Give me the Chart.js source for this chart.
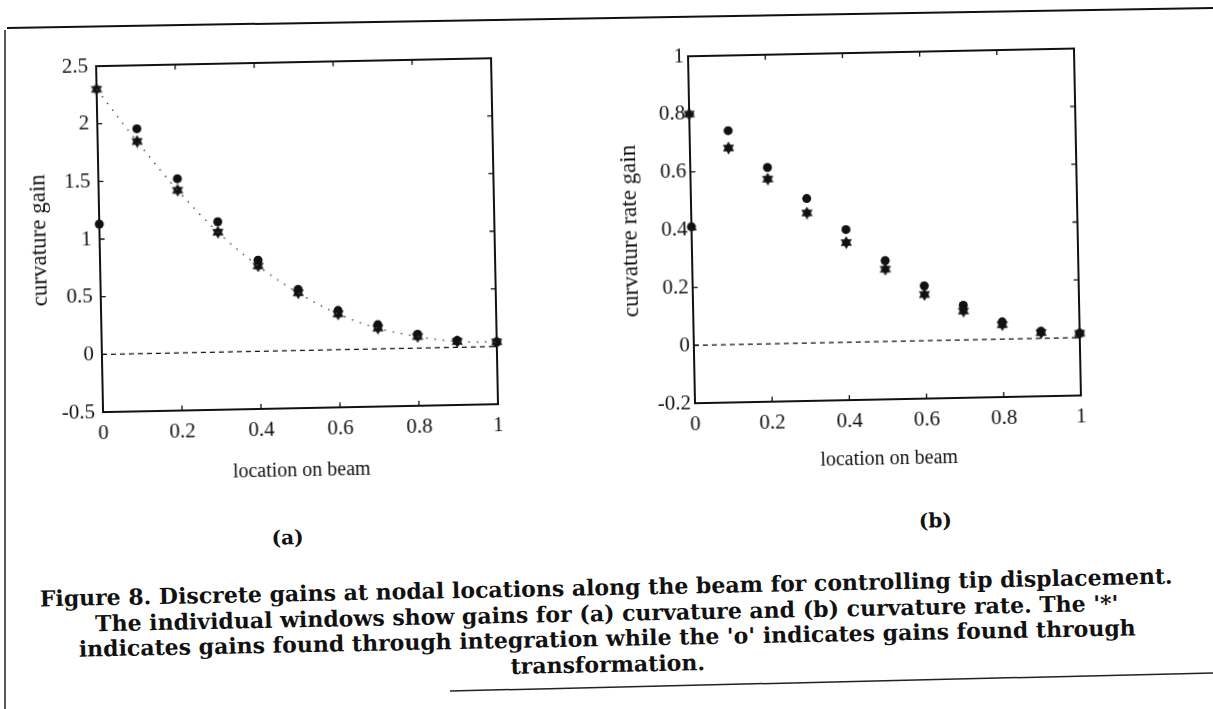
<!DOCTYPE html>
<html>
<head>
<meta charset="utf-8">
<script src="https://cdn.jsdelivr.net/npm/chart.js@4.4.0/dist/chart.umd.min.js"></script>
<style>
  html, body { margin: 0; padding: 0; background: #fff; }
  #sheet { position: relative; width: 1213px; height: 709px; overflow: hidden; background: #fff; }
  #page { position: absolute; left: 0; top: 0; width: 1213px; height: 709px;
          transform: rotate(-1.15deg); transform-origin: 606px 354px; }
  .panel { position: absolute; top: 0; }
  .tag { position: absolute; font: bold 20px "DejaVu Serif"; color: #111; transform: translate(-50%, -50%); }
  #caption { position: absolute; left: 0; top: 575px; width: 1203px; text-align: center;
             font: bold 22px/25.5px "DejaVu Serif"; color: #111; }
  #rules { position: absolute; left: 0; top: 0; }
</style>
</head>
<body>
<div id="sheet">
  <svg id="rules" width="1213" height="709">
    <line x1="7" y1="28" x2="1213" y2="8" stroke="#111" stroke-width="2"/>
    <line x1="5" y1="30" x2="5" y2="709" stroke="#222" stroke-width="1.5"/>
    <line x1="450" y1="691" x2="1213" y2="673" stroke="#222" stroke-width="1.5"/>
  </svg>
  <div id="page">
    <canvas id="curvatureChart" class="panel" style="left:0px" width="580" height="500"></canvas>
    <canvas id="rateChart" class="panel" style="left:600px" width="560" height="500"></canvas>
    <div class="tag" style="left:284px; top:531px">(a)</div>
    <div class="tag" style="left:932px; top:527px">(b)</div>
    <div id="caption">
      Figure 8. Discrete gains at nodal locations along the beam for controlling tip displacement.<br>
      The individual windows show gains for (a) curvature and (b) curvature rate. The '*'<br>
      indicates gains found through integration while the 'o' indicates gains found through<br>
      transformation.
    </div>
  </div>
</div>

<script>
// nodal locations along the beam
const positions = [0, 0.1, 0.2, 0.3, 0.4, 0.5, 0.6, 0.7, 0.8, 0.9, 1];

// (a) curvature gains
const curvatureIntegration = [2.30, 1.84, 1.41, 1.04, 0.74, 0.50, 0.31, 0.18, 0.10, 0.05, 0.04];
const curvatureTransform = [1.13, 1.95, 1.51, 1.13, 0.79, 0.53, 0.34, 0.21, 0.12, 0.06, 0.04];

// (b) curvature rate gains
const rateIntegration = [0.80, 0.68, 0.57, 0.45, 0.345, 0.25, 0.16, 0.10, 0.05, 0.02, 0.015];
const rateTransform = [0.41, 0.74, 0.61, 0.50, 0.39, 0.28, 0.19, 0.12, 0.06, 0.025, 0.015];

// zero reference line
const zeroLineX = [0, 1];
const zeroLineY = [0, 0];

const xTicks = [0, 0.2, 0.4, 0.6, 0.8, 1];
const curvatureTicks = [-0.5, 0, 0.5, 1, 1.5, 2, 2.5];
const rateTicks = [-0.2, 0, 0.2, 0.4, 0.6, 0.8, 1];

const ink = '#111';
const serif = '"Liberation Serif", "Times New Roman", serif';

function pairs(xs, ys) {
    return xs.map((x, i) => ({ x: x, y: ys[i] }));
}

function fmt(v) {
    return String(+v.toFixed(2));
}

// filled six-pointed star used for the integration markers
function hexagram(size) {
    const c = document.createElement('canvas');
    c.width = c.height = size;
    const g = c.getContext('2d');
    const r = size / 2;
    g.fillStyle = ink;
    [0, Math.PI].forEach(rot => {
        g.beginPath();
        for (let i = 0; i < 3; i++) {
            const a = rot - Math.PI / 2 + i * 2 * Math.PI / 3;
            const px = r + r * Math.cos(a), py = r + r * Math.sin(a);
            if (i) g.lineTo(px, py); else g.moveTo(px, py);
        }
        g.closePath();
        g.fill();
    });
    return c;
}
const starMark = hexagram(13);

// box round the plot area with inward ticks on all four sides
const framePlugin = {
    id: 'frame',
    beforeDatasetsDraw(chart) {
        const { ctx, chartArea: a, scales: { x, y } } = chart;
        ctx.save();
        ctx.strokeStyle = ink;
        ctx.lineWidth = 2;
        ctx.strokeRect(a.left, a.top, a.right - a.left, a.bottom - a.top);
        ctx.lineWidth = 1.3;
        ctx.beginPath();
        x.ticks.forEach(t => {
            const px = x.getPixelForValue(t.value);
            ctx.moveTo(px, a.bottom); ctx.lineTo(px, a.bottom - 5);
            ctx.moveTo(px, a.top); ctx.lineTo(px, a.top + 5);
        });
        y.ticks.forEach(t => {
            const py = y.getPixelForValue(t.value);
            ctx.moveTo(a.left, py); ctx.lineTo(a.left + 5, py);
            ctx.moveTo(a.right, py); ctx.lineTo(a.right - 5, py);
        });
        ctx.stroke();
        ctx.restore();
    }
};

function gainChart(id, cfg) {
    const datasets = [
        {
            type: 'line', data: pairs(zeroLineX, zeroLineY),
            borderColor: ink, borderWidth: 1.4, borderDash: [5, 4],
            pointRadius: 0, clip: false
        }
    ];
    if (cfg.curve) {
        datasets.push({
            type: 'line', data: pairs(positions, cfg.integration),
            borderColor: '#444', borderWidth: 1.4, borderDash: [1.5, 7],
            tension: 0.35, pointRadius: 0
        });
    }
    datasets.push(
        {
            type: 'scatter', data: pairs(positions, cfg.transform),
            pointStyle: 'circle', pointRadius: 4.5,
            backgroundColor: ink, borderColor: ink, borderWidth: 0, clip: false
        },
        {
            type: 'scatter', data: pairs(positions, cfg.integration),
            pointStyle: starMark, pointRadius: 6, clip: false
        }
    );

    return new Chart(document.getElementById(id), {
        type: 'scatter',
        data: { datasets: datasets },
        options: {
            responsive: false,
            animation: false,
            events: [],
            layout: { padding: cfg.padding },
            plugins: { legend: { display: false }, tooltip: { enabled: false } },
            scales: {
                x: {
                    type: 'linear', min: 0, max: 1,
                    afterBuildTicks: s => { s.ticks = xTicks.map(v => ({ value: v })); },
                    afterFit: s => { s.height = cfg.xHeight; },
                    grid: { display: false, drawTicks: false },
                    border: { display: false },
                    ticks: { color: ink, padding: 9, maxRotation: 0, font: { family: serif, size: 21 }, callback: fmt },
                    title: { display: true, text: 'location on beam', color: ink,
                             font: { family: serif, size: 20 }, padding: { top: 0, bottom: 23 } }
                },
                y: {
                    type: 'linear', min: cfg.yTicks[0], max: cfg.yTicks[cfg.yTicks.length - 1],
                    afterBuildTicks: s => { s.ticks = cfg.yTicks.map(v => ({ value: v })); },
                    afterFit: s => { s.width = cfg.yWidth; },
                    grid: { display: false, drawTicks: false },
                    border: { display: false },
                    ticks: { color: ink, padding: cfg.tickPad, font: { family: serif, size: 21 }, callback: fmt },
                    title: { display: true, text: cfg.yTitle, color: ink,
                             font: { family: serif, size: 23 }, padding: { top: cfg.titlePad, bottom: 0 } }
                }
            }
        },
        plugins: [framePlugin]
    });
}

gainChart('curvatureChart', {
    integration: curvatureIntegration,
    transform: curvatureTransform,
    yTicks: curvatureTicks,
    yTitle: 'curvature gain',
    curve: true,
    padding: { top: 56, right: 83, left: 0, bottom: 0 },
    yWidth: 102, xHeight: 98, tickPad: 8, titlePad: 28
});

gainChart('rateChart', {
    integration: rateIntegration,
    transform: rateTransform,
    yTicks: rateTicks,
    yTitle: 'curvature rate gain',
    curve: false,
    padding: { top: 58, right: 80, left: 0, bottom: 0 },
    yWidth: 94, xHeight: 95, tickPad: 4, titlePad: 19
});
</script>
</body>
</html>
